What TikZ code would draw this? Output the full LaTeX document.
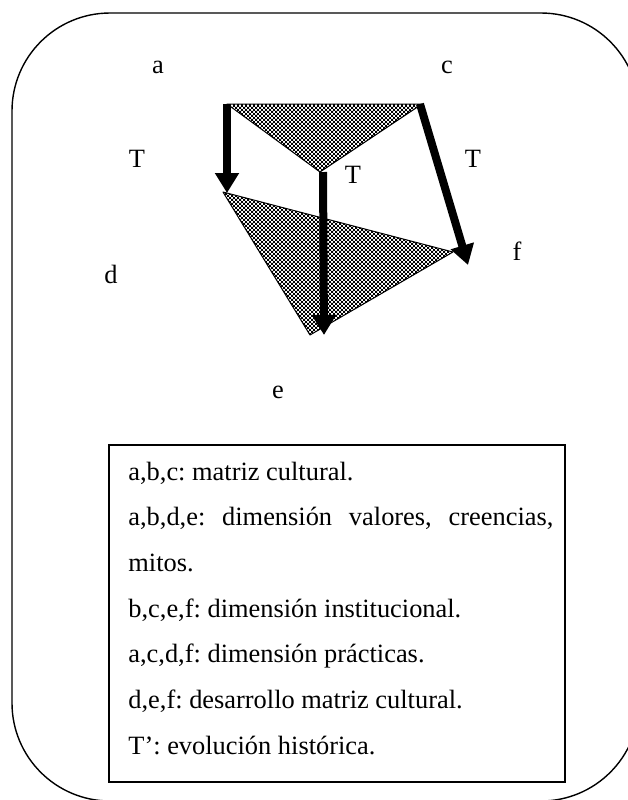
\documentclass[tikz,border=0pt]{standalone}
\usepackage{fontspec}
\setmainfont{Liberation Serif}
\usetikzlibrary{arrows.meta,patterns}
\frenchspacing

% fine black/white checks for the two planes
\pgfdeclarepatternformonly{finechecks}{\pgfpointorigin}{\pgfqpoint{2pt}{2pt}}{\pgfqpoint{2pt}{2pt}}{%
  \pgfpathrectangle{\pgfpointorigin}{\pgfqpoint{1.1pt}{1.1pt}}%
  \pgfpathrectangle{\pgfqpoint{1pt}{1pt}}{\pgfqpoint{1.1pt}{1.1pt}}%
  \pgfusepath{fill}}

\begin{document}
\begin{tikzpicture}[
    x=0.5pt, y=-0.5pt,
    vlabel/.style={anchor=base, inner sep=0pt, font=\fontsize{13.2}{16}\selectfont},
    legendline/.style={anchor=base west, inner sep=0pt, font=\fontsize{13.2}{16}\selectfont},
    plane/.style={draw, line width=0.5pt, pattern=finechecks, line join=round},
    evol/.style={-{Triangle[length=10pt, width=11.5pt]}, line width=4pt}
]
\useasboundingbox (0,0) rectangle (628,800);

% outer frame (runs off the right and bottom edges)
\begin{scope}
\clip (0,0) rectangle (628,800);
\draw[line width=0.7pt, rounded corners=49pt] (12,13) rectangle (639,801);
\end{scope}

% vertices
\coordinate (a) at (227,104);
\coordinate (c) at (422,104);
\coordinate (b) at (320,172);
\coordinate (d) at (223,192);
\coordinate (f) at (453,252);
\coordinate (e) at (310,335);
% arrow starts and tips
\coordinate (bstart) at (323,172);
\coordinate (cstart) at (420,104);
\coordinate (dtip) at (227,193);
\coordinate (etip) at (324,335);
\coordinate (ftip) at (468,265);

% planes
\draw[plane] (a) -- (c) -- (b) -- cycle;
\draw[plane] (d) -- (f) -- (e) -- cycle;

% evolution arrows
\draw[evol] (a) -- (dtip);
\draw[evol] (bstart) -- (etip);
\draw[evol] (cstart) -- (ftip);

% letters
\node[vlabel] (lbla) at (158,73) {a};
\node[vlabel] (lblc) at (447,73) {c};
\node[vlabel] (lblt1) at (137,167) {T};
\node[vlabel] (lblt2) at (353,183) {T};
\node[vlabel] (lblt3) at (473,167) {T};
\node[vlabel] (lbld) at (111,283) {d};
\node[vlabel] (lblf) at (517,260) {f};
\node[vlabel] (lble) at (278,398) {e};

% legend
\node[draw, line width=1pt, anchor=north west, minimum width=228pt, minimum height=168.5pt, inner sep=0pt] (legendbox) at (108,444) {};
\node[legendline] (l1) at (128,480) {a,b,c: matriz cultural.};
\node[legendline] (l2) at (128,525.7) {\makebox[212.5pt][s]{a,b,d,e: dimensión valores, creencias,}};
\node[legendline] (l3) at (128,571.4) {mitos.};
\node[legendline] (l4) at (128,617.1) {b,c,e,f: dimensión institucional.};
\node[legendline] (l5) at (128,662.8) {a,c,d,f: dimensión prácticas.};
\node[legendline] (l6) at (128,708.5) {d,e,f: desarrollo matriz cultural.};
\node[legendline] (l7) at (128,754.2) {T’: evolución histórica.};
\end{tikzpicture}
\end{document}
